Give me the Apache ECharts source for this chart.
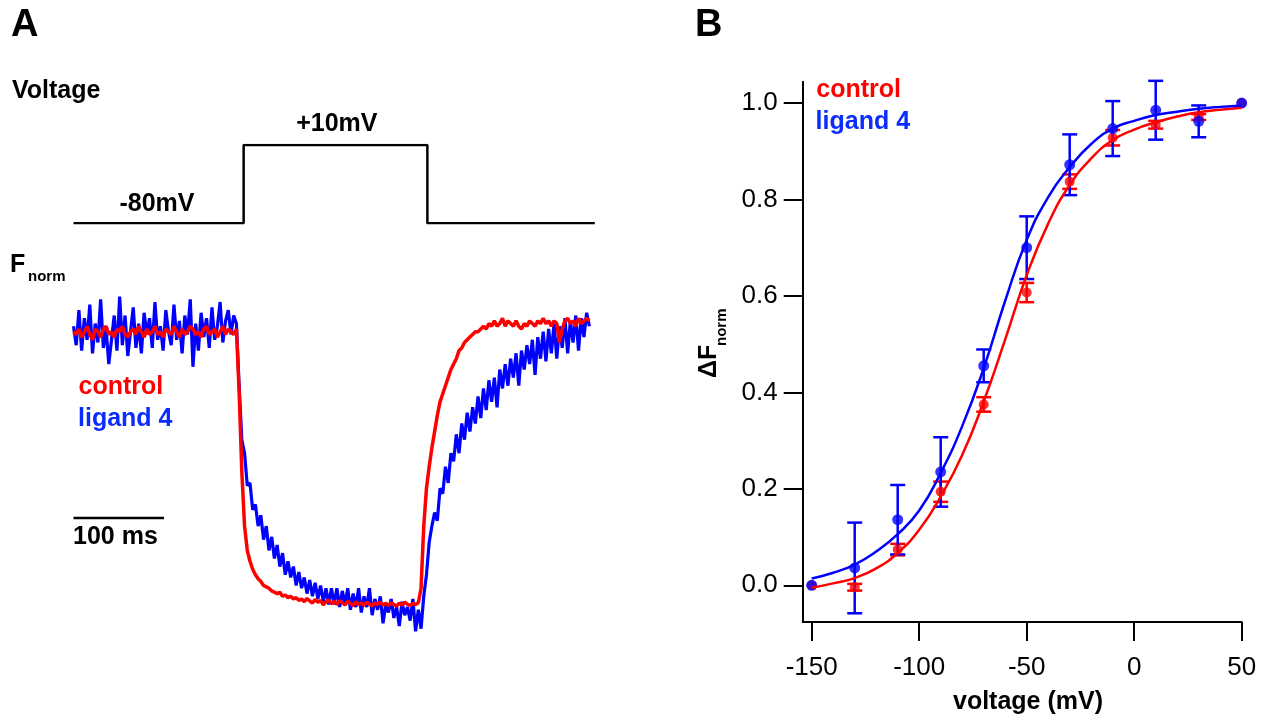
<!DOCTYPE html>
<html>
<head>
<meta charset="utf-8">
<script src="https://cdn.jsdelivr.net/npm/echarts@6/dist/echarts.min.js"></script>
<style>
html,body{margin:0;padding:0;background:#fff;}
#chart{width:1267px;height:717px;}
</style>
</head>
<body>
<div id="chart"></div>
<script>
// ---------------- Panel A data ----------------
const sampleMs = 3; // one trace sample every 3 ms, starting at t = 0

const controlTrace = [
  1.00, 0.99, 1.01, 0.98, 1.00, 1.02, 0.99, 0.97, 1.01, 1.00,
  0.98, 1.01, 1.02, 0.99, 1.00, 0.98, 1.01, 1.00, 1.02, 0.99,
  0.98, 1.00, 1.01, 0.99, 1.02, 1.00, 0.98, 1.01, 0.99, 1.00,
  1.02, 0.99, 1.00, 0.98, 1.01, 1.00, 0.99, 1.02, 1.00, 0.98,
  1.01, 0.99, 1.00, 1.02, 1.01, 0.99, 1.00, 0.98, 1.01, 1.02,
  0.99, 1.00, 1.01, 0.98, 1.00, 1.02, 0.99, 1.01, 1.00, 0.99,
  1.01,
  0.78, 0.48, 0.28, 0.19, 0.15, 0.12, 0.10, 0.085, 0.075, 0.06,
  0.055, 0.05, 0.04, 0.035, 0.03, 0.035, 0.02, 0.025, 0.015, 0.02,
  0.01, 0.015, 0.005, 0.01, 0.0, 0.012, 0.003, -0.005, 0.008, -0.002,
  0.005, -0.012, 0.0, 0.006, -0.008, 0.002, -0.01, 0.004, -0.004, -0.012,
  0.002, -0.006, -0.015, 0.0, -0.01, -0.004, -0.014, -0.002, -0.008, -0.016,
  -0.004, -0.01, -0.002, -0.012, -0.006, -0.014, -0.004, -0.01, -0.016, -0.006,
  -0.012, -0.002, -0.01, -0.014, -0.006, -0.01, -0.004,
  0.05, 0.28, 0.42, 0.50, 0.57, 0.63, 0.69, 0.74, 0.77, 0.80,
  0.83, 0.86, 0.88, 0.90, 0.93, 0.94, 0.96, 0.97, 0.98, 0.99,
  1.00, 1.00, 1.01, 1.02, 1.01, 1.03, 1.02, 1.04, 1.02, 1.03,
  1.05, 1.02, 1.04, 1.03, 1.02, 1.04, 1.02, 1.01, 1.03, 1.02,
  1.04, 1.03, 1.02, 1.04, 1.03, 1.05, 1.03, 1.04, 1.02, 1.04,
  1.03, 0.96, 1.01, 1.04, 1.05, 1.03, 1.04, 1.02, 1.05, 1.03,
  1.04, 1.05, 1.04
];

const ligandTrace = [
  1.02, 0.95, 1.08, 0.93, 1.05, 0.97, 1.10, 0.92, 1.03, 0.96,
  1.12, 0.94, 1.01, 0.88, 0.97, 1.06, 0.93, 1.13, 0.95, 1.06,
  0.91, 1.00, 1.09, 0.94, 1.03, 0.92, 1.07, 0.99, 1.05, 0.94,
  1.11, 0.97, 1.02, 0.93, 1.08, 1.00, 0.95, 1.10, 0.97, 1.04,
  0.92, 1.06, 0.99, 1.12, 0.87, 1.03, 0.93, 1.07, 0.98, 1.05,
  0.94, 1.09, 0.97, 1.02, 1.11, 0.96, 1.04, 1.08, 0.99, 1.06,
  1.03,
  0.80, 0.60, 0.55, 0.43, 0.44, 0.34, 0.36, 0.28, 0.32, 0.23,
  0.28, 0.19, 0.24, 0.16, 0.21, 0.13, 0.18, 0.10, 0.15, 0.09,
  0.13, 0.06, 0.11, 0.05, 0.09, 0.03, 0.08, 0.02, 0.07, 0.01,
  0.06, 0.00, 0.05, -0.01, 0.05, -0.01, 0.05, -0.02, 0.04, -0.01,
  0.05, -0.03, 0.03, -0.02, 0.05, -0.04, 0.02, -0.02, 0.05, -0.05,
  0.01, -0.03, 0.02, -0.08, -0.01, -0.04, 0.01, -0.06, -0.02, -0.09,
  0.00, -0.05, -0.02, -0.07, 0.01, -0.11, -0.03,
  -0.10, 0.02, 0.10, 0.22, 0.28, 0.33, 0.30, 0.42, 0.40, 0.50,
  0.44, 0.55, 0.52, 0.62, 0.55, 0.66, 0.60, 0.70, 0.63, 0.72,
  0.66, 0.76, 0.68, 0.79, 0.71, 0.82, 0.74, 0.83, 0.72, 0.86,
  0.79, 0.88, 0.80, 0.90, 0.83, 0.92, 0.80, 0.93, 0.86, 0.95,
  0.88, 0.97, 0.84, 0.98, 0.90, 1.00, 0.89, 1.01, 0.92, 1.03,
  0.90, 1.02, 0.94, 1.05, 0.92, 1.04, 0.96, 1.06, 0.93, 1.05,
  0.98, 1.07, 1.02
];

const voltageTimes  = [0, 188, 188, 391, 391, 576];
const voltageLevels = [-80, -80, 10, 10, -80, -80];
const scaleBarMs = 100;
const scaleBarLevel = 0.31;

// ---------------- Panel B data ----------------
const voltages    = [-150, -130, -110, -90, -70, -50, -30, -10, 10, 30, 50];
const controlMean = [0.0, -0.004, 0.074, 0.194, 0.375, 0.607, 0.837, 0.928, 0.955, 0.971, 1.0];
const controlErr  = [0, 0.007, 0.012, 0.021, 0.015, 0.020, 0.015, 0.016, 0.008, 0.006, 0];
const ligandMean  = [0.0, 0.036, 0.136, 0.235, 0.455, 0.700, 0.872, 0.947, 0.985, 0.962, 1.0];
const ligandErr   = [0, 0.094, 0.072, 0.072, 0.034, 0.065, 0.063, 0.057, 0.061, 0.033, 0];

const fitVoltages = [-150, -140, -130, -120, -110, -100, -90, -80, -70, -60, -50, -40, -30, -20, -10, 0, 10, 20, 30, 40, 50];
const controlFit  = [-0.005, 0.004, 0.015, 0.035, 0.067, 0.115, 0.184, 0.27, 0.381, 0.51, 0.643, 0.75, 0.83, 0.885, 0.923, 0.945, 0.96, 0.972, 0.981, 0.986, 0.99];
const ligandFit   = [0.014, 0.026, 0.043, 0.07, 0.106, 0.155, 0.233, 0.33, 0.45, 0.59, 0.716, 0.805, 0.867, 0.915, 0.947, 0.963, 0.975, 0.982, 0.988, 0.992, 0.995];

const xTickValues = [-150, -100, -50, 0, 50];
const yTickValues = [0, 0.2, 0.4, 0.6, 0.8, 1.0];

// ---------------- styling ----------------
const FONT = '"Liberation Sans", Arial, Helvetica, sans-serif';
const RED = '#ff0000';
const BLUE = '#0000ff';
const BLUE_TEXT = '#0a2cff';

function txt(x, y, text, size, color, align, weight) {
  return {
    type: 'text', x: x, y: y, silent: true,
    style: {
      text: text,
      font: (weight || 'bold') + ' ' + size + 'px ' + FONT,
      fill: color || '#000',
      align: align || 'left', verticalAlign: 'middle',
      textAlign: align || 'left', textVerticalAlign: 'middle'
    }
  };
}

function errorBars(means, errs, color) {
  return {
    type: 'custom', xAxisIndex: 2, yAxisIndex: 2,
    data: voltages.map((v, i) => [v, means[i], errs[i]]),
    renderItem: function (params, api) {
      const x = api.value(0), y = api.value(1), e = api.value(2);
      if (!e) return { type: 'group', children: [] };
      const top = api.coord([x, y + e]);
      const bot = api.coord([x, y - e]);
      const hw = 7.5;
      const st = { stroke: color, lineWidth: 2.5 };
      return {
        type: 'group', children: [
          { type: 'line', shape: { x1: top[0], y1: top[1], x2: bot[0], y2: bot[1] }, style: st },
          { type: 'line', shape: { x1: top[0] - hw, y1: top[1], x2: top[0] + hw, y2: top[1] }, style: st },
          { type: 'line', shape: { x1: bot[0] - hw, y1: bot[1], x2: bot[0] + hw, y2: bot[1] }, style: st }
        ]
      };
    }
  };
}

const hiddenAxis = (gi, min, max) => ({ gridIndex: gi, type: 'value', min: min, max: max, show: false });

const option = {
  animation: false,
  backgroundColor: '#ffffff',
  grid: [
    { left: 73.5, top: 145, width: 521.3, height: 78.3, outerBoundsMode: 'none', containLabel: false },
    { left: 73.5, top: 277.7, width: 521.3, height: 364.5, outerBoundsMode: 'none', containLabel: false },
    { left: 802.7, top: 81.7, width: 439, height: 540.3, outerBoundsMode: 'none', containLabel: false }
  ],
  xAxis: [
    hiddenAxis(0, 0, 576),
    hiddenAxis(1, 0, 576),
    {
      gridIndex: 2, type: 'value', min: -154.19, max: 50,
      axisLine: { show: true, onZero: false, lineStyle: { color: '#000', width: 2 } },
      axisTick: { show: true, inside: false, length: 19, customValues: xTickValues, lineStyle: { color: '#000', width: 2 } },
      axisLabel: { show: true, customValues: xTickValues, margin: 33, color: '#000', fontSize: 26, fontFamily: FONT,
                   formatter: v => String(Math.round(v)) },
      splitLine: { show: false }
    }
  ],
  yAxis: [
    hiddenAxis(0, -80, 10),
    hiddenAxis(1, -0.15, 1.2),
    {
      gridIndex: 2, type: 'value', min: -0.0761, max: 1.0442,
      axisLine: { show: true, onZero: false, lineStyle: { color: '#000', width: 2 } },
      axisTick: { show: true, inside: false, length: 19, customValues: yTickValues, lineStyle: { color: '#000', width: 2 } },
      axisLabel: { show: true, customValues: yTickValues, margin: 25, color: '#000', fontSize: 26, fontFamily: FONT,
                   formatter: v => Number(v).toFixed(1) },
      splitLine: { show: false }
    }
  ],
  series: [
    // voltage protocol
    { type: 'line', xAxisIndex: 0, yAxisIndex: 0, showSymbol: false, symbol: 'none',
      lineStyle: { color: '#000', width: 2.5 },
      data: voltageTimes.map((t, i) => [t, voltageLevels[i]]) },
    // fluorescence traces
    { type: 'line', xAxisIndex: 1, yAxisIndex: 1, showSymbol: false, symbol: 'none',
      lineStyle: { color: BLUE, width: 3.2 },
      data: ligandTrace.map((v, i) => [i * sampleMs, v]) },
    { type: 'line', xAxisIndex: 1, yAxisIndex: 1, showSymbol: false, symbol: 'none',
      lineStyle: { color: RED, width: 3.5 },
      data: controlTrace.map((v, i) => [i * sampleMs, v]) },
    // scale bar
    { type: 'line', xAxisIndex: 1, yAxisIndex: 1, showSymbol: false, symbol: 'none',
      lineStyle: { color: '#000', width: 2.5 },
      data: [[0, scaleBarLevel], [scaleBarMs, scaleBarLevel]] },
    // Panel B: control
    { type: 'line', xAxisIndex: 2, yAxisIndex: 2, showSymbol: false, symbol: 'none', smooth: 0.5,
      lineStyle: { color: RED, width: 2.5 },
      data: fitVoltages.map((v, i) => [v, controlFit[i]]) },
    errorBars(controlMean, controlErr, RED),
    { type: 'scatter', xAxisIndex: 2, yAxisIndex: 2, symbol: 'circle', symbolSize: 10,
      itemStyle: { color: RED },
      data: voltages.map((v, i) => [v, controlMean[i]]) },
    // Panel B: ligand 4
    { type: 'line', xAxisIndex: 2, yAxisIndex: 2, showSymbol: false, symbol: 'none', smooth: 0.5,
      lineStyle: { color: BLUE, width: 2.5 },
      data: fitVoltages.map((v, i) => [v, ligandFit[i]]) },
    errorBars(ligandMean, ligandErr, BLUE),
    { type: 'scatter', xAxisIndex: 2, yAxisIndex: 2, symbol: 'circle', symbolSize: 11,
      itemStyle: { color: BLUE },
      data: voltages.map((v, i) => [v, ligandMean[i]]) }
  ],
  graphic: [
    txt(11, 25.5, 'A', 38),
    txt(695, 25.5, 'B', 38),
    txt(12, 91, 'Voltage', 25),
    txt(336.8, 124.5, '+10mV', 25, '#000', 'center'),
    txt(157, 204.5, '-80mV', 25, '#000', 'center'),
    txt(10, 265.5, 'F', 25),
    txt(28, 277, 'norm', 15),
    txt(78.5, 387, 'control', 25, RED),
    txt(78, 419, 'ligand 4', 25, BLUE_TEXT),
    txt(73, 537, '100 ms', 25),
    txt(816.3, 90.5, 'control', 25, RED),
    txt(815.6, 122, 'ligand 4', 25, BLUE_TEXT),
    txt(1028, 702, 'voltage (mV)', 25, '#000', 'center'),
    {
      type: 'group', x: 717, y: 378, rotation: Math.PI / 2, silent: true,
      children: [
        txt(0, -7.75, 'ΔF', 25),
        txt(32, 4.5, 'norm', 15)
      ]
    }
  ]
};

const chart = echarts.init(document.getElementById('chart'));
chart.setOption(option);
</script>
</body>
</html>
